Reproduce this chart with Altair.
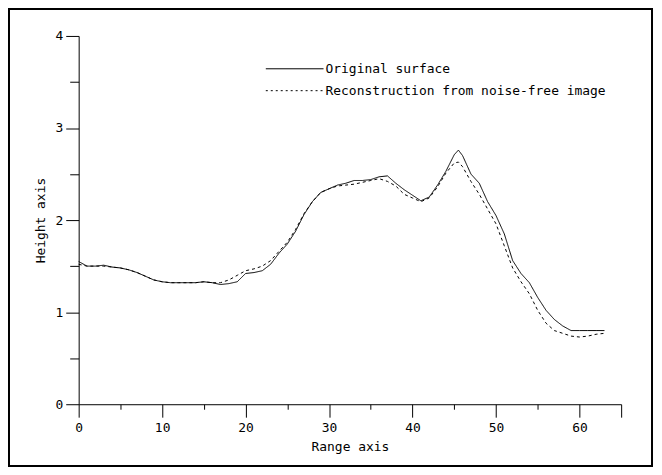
import altair as alt
import pandas as pd

series_names = ["Original surface", "Reconstruction from noise-free image"]

x_vals = [0, 1, 2, 3, 4, 5, 6, 7, 8, 9,
          10, 11, 12, 13, 14, 15, 16, 17, 18, 19,
          20, 21, 22, 23, 24, 25, 26, 27, 28, 29,
          30, 31, 32, 33, 34, 35, 36, 37, 38, 39,
          40, 41, 42, 43, 44, 45, 45.5, 46, 47, 48, 49,
          50, 51, 52, 53, 54, 55, 56, 57, 58, 59,
          60, 61, 62, 63]

original = [1.55, 1.50, 1.50, 1.51, 1.49, 1.48, 1.46, 1.43, 1.39, 1.35,
            1.33, 1.32, 1.32, 1.32, 1.32, 1.33, 1.32, 1.30, 1.31, 1.33,
            1.42, 1.43, 1.45, 1.52, 1.64, 1.74, 1.88, 2.06, 2.20, 2.30,
            2.34, 2.38, 2.40, 2.43, 2.43, 2.44, 2.47, 2.48, 2.40, 2.33,
            2.27, 2.21, 2.25, 2.38, 2.53, 2.71, 2.76, 2.70, 2.50, 2.40, 2.20,
            2.05, 1.85, 1.56, 1.42, 1.32, 1.16, 1.02, 0.92, 0.85, 0.80,
            0.80, 0.80, 0.80, 0.80]

reconstruction = [1.52, 1.50, 1.50, 1.50, 1.49, 1.48, 1.46, 1.43, 1.39, 1.35,
                  1.33, 1.32, 1.32, 1.32, 1.32, 1.33, 1.32, 1.32, 1.35, 1.40,
                  1.45, 1.47, 1.50, 1.56, 1.66, 1.76, 1.90, 2.07, 2.20, 2.30,
                  2.34, 2.37, 2.38, 2.39, 2.41, 2.43, 2.45, 2.42, 2.37, 2.28,
                  2.24, 2.20, 2.24, 2.36, 2.51, 2.62, 2.63, 2.58, 2.42, 2.28, 2.12,
                  1.96, 1.72, 1.48, 1.33, 1.20, 1.02, 0.88, 0.80, 0.77, 0.74,
                  0.73, 0.74, 0.76, 0.77]

x_major = [0, 10, 20, 30, 40, 50, 60, 65]
x_minor = [5, 15, 25, 35, 45, 55]
y_major = [0, 1, 2, 3, 4]
y_minor = [0.5, 1.5, 2.5, 3.5]

rows = []
for name, vals in zip(series_names, [original, reconstruction]):
    for xv, yv in zip(x_vals, vals):
        rows.append({"range": xv, "height": yv, "series": name})
df = pd.DataFrame(rows)

FONT = "DejaVu Sans Mono"

x_scale = alt.Scale(domain=[0, 65], nice=False, zero=False)
y_scale = alt.Scale(domain=[0, 4], nice=False)

lines = alt.Chart(df).mark_line(strokeWidth=1, color="black").encode(
    x=alt.X("range:Q", scale=x_scale,
            axis=alt.Axis(orient="bottom", values=x_major, title="Range axis",
                          labelExpr="datum.value < 65 ? format(datum.value, 'd') : ''",
                          tickSize=13, labelPadding=4, titlePadding=6, labelFlush=False)),
    y=alt.Y("height:Q", scale=y_scale,
            axis=alt.Axis(orient="left", values=y_major, title="Height axis",
                          labelExpr="format(datum.value, 'd')",
                          tickSize=13, labelPadding=3, titlePadding=8, labelFlush=False)),
    strokeDash=alt.StrokeDash("series:N",
                              scale=alt.Scale(domain=series_names, range=[[1, 0], [3, 3]]),
                              legend=None),
    detail="series:N",
)

minor = alt.Chart(df).mark_line(opacity=0).encode(
    x=alt.X("range:Q", scale=x_scale,
            axis=alt.Axis(orient="bottom", values=x_minor, title="", labels=False,
                          domain=False, tickSize=5)),
    y=alt.Y("height:Q", scale=y_scale,
            axis=alt.Axis(orient="left", values=y_minor, title="", labels=False,
                          domain=False, tickSize=9)),
    detail="series:N",
)

one = pd.DataFrame({"k": [0]})

leg_solid = alt.Chart(one).mark_rule(color="black", strokeWidth=1).encode(
    x=alt.value(188), x2=alt.value(246), y=alt.value(33))
leg_dash = alt.Chart(one).mark_rule(color="black", strokeWidth=1, strokeDash=[2, 3]).encode(
    x=alt.value(188), x2=alt.value(246), y=alt.value(55))
leg_t1 = alt.Chart(one).mark_text(align="left", baseline="middle", font=FONT, fontSize=13, color="black").encode(
    x=alt.value(248), y=alt.value(33), text=alt.value(series_names[0]))
leg_t2 = alt.Chart(one).mark_text(align="left", baseline="middle", font=FONT, fontSize=13, color="black").encode(
    x=alt.value(248), y=alt.value(55), text=alt.value(series_names[1]))

frame = alt.Chart(one).mark_rect(fill=None, fillOpacity=0, stroke="black", strokeWidth=2).encode(
    x=alt.value(-70), x2=alt.value(576), y=alt.value(-27), y2=alt.value(432))

chart = alt.layer(lines, minor, leg_solid, leg_dash, leg_t1, leg_t2, frame).resolve_axis(
    x="independent", y="independent"
).properties(
    width=545, height=370,
    autosize=alt.AutoSizeParams(type="none"),
    padding={"left": 71, "top": 27, "right": 33, "bottom": 64},
).configure_view(stroke=None).configure_axis(
    grid=False, domainColor="black", tickColor="black", labelColor="black", titleColor="black",
    domainWidth=1, tickWidth=1, labelFont=FONT, titleFont=FONT, labelFontSize=13,
    titleFontSize=13, titleFontWeight="normal",
)

chart.save("out.html", embed_options={"renderer": "svg", "actions": False})
